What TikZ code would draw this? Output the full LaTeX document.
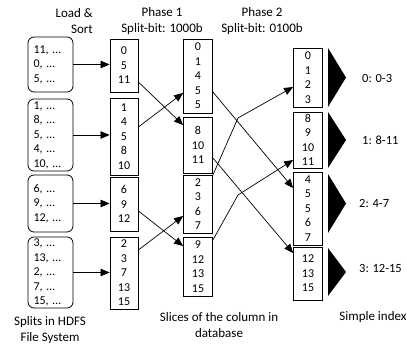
\documentclass[tikz,border=0pt]{standalone}
\usepackage{fontspec}
\setmainfont{Carlito}
\usetikzlibrary{arrows.meta}
\begin{document}
\begin{tikzpicture}[x=1pt,y=-1pt,
  font=\fontsize{12}{14.5}\selectfont,
  split/.style={draw,rounded corners=6pt,line width=0.8pt,minimum width=45pt,inner sep=0pt,align=left,text width=34pt},
  slice/.style={draw,line width=0.8pt,inner sep=0pt,align=center,minimum width=29pt},
  conn/.style={line width=0.7pt,-{Triangle[length=9pt,width=7.5pt]}},
  lbl/.style={inner sep=0pt,align=center,font=\fontsize{13}{16}\selectfont},
  idx/.style={inner sep=0pt,anchor=west,font=\fontsize{12.5}{15}\selectfont},
  tri/.style={fill=black}]
\useasboundingbox (0,0) rectangle (407,345);

% headers
\node[lbl,align=right,anchor=east] (hload) at (93,21) {Load \&\\Sort};
\node[lbl] (hp1) at (162,21) {Phase 1\\Split-bit: 1000b};
\node[lbl] (hp2) at (262,21) {Phase 2\\Split-bit: 0100b};

% splits
\node[split,minimum height=55pt] (s1) at (50.5,64.5) {11, …\\0, …\\5, …};
\node[split,minimum height=72pt] (s2) at (50.5,135) {1, …\\8, …\\5, …\\4, …\\10, …};
\node[split,minimum height=57pt] (s3) at (50.5,203.5) {6, …\\9, …\\12, …};
\node[split,minimum height=71pt] (s4) at (50.5,272.5) {3, …\\13, …\\2, …\\7, …\\15, …};

% phase 1 slices
\node[slice,minimum width=28pt,minimum height=53pt] (p1a) at (124,65.5) {0\\5\\11};
\node[slice,minimum width=28pt,minimum height=77pt] (p1b) at (124,136.5) {1\\4\\5\\8\\10};
\node[slice,minimum width=28pt,minimum height=54pt] (p1c) at (124,204) {6\\9\\12};
\node[slice,minimum width=28pt,minimum height=72pt] (p1d) at (124,273) {2\\3\\7\\13\\15};

% middle slices
\node[slice,minimum height=74pt] (m1) at (198,76) {0\\1\\4\\5\\5};
\node[slice,minimum height=56pt] (m2) at (198,145) {8\\10\\11};
\node[slice,minimum height=58pt] (m3) at (198,204) {2\\3\\6\\7};
\node[slice,minimum height=59pt] (m4) at (198,266.5) {9\\12\\13\\15};

% right slices
\node[slice,minimum height=59pt] (r1) at (308,77.5) {0\\1\\2\\3};
\node[slice,minimum height=56pt] (r2) at (308,140) {8\\9\\10\\11};
\node[slice,minimum height=73pt] (r3) at (308,208.5) {4\\5\\5\\6\\7};
\node[slice,minimum height=53pt] (r4) at (308,273.5) {12\\13\\15};

% triangles
\fill[tri] (328,48) -- (328,107) -- (346,77.5) -- cycle;
\fill[tri] (328,112) -- (328,168) -- (346,140) -- cycle;
\fill[tri] (328,174) -- (328,233) -- (346,203.5) -- cycle;
\fill[tri] (328,248) -- (328,296) -- (346,272) -- cycle;

% index labels
\node[idx] (i0) at (362,78) {0: 0-3};
\node[idx] (i1) at (362,140) {1: 8-11};
\node[idx] (i2) at (359,203) {2: 4-7};
\node[idx] (i3) at (359,268) {3: 12-15};

% bottom labels
\node[lbl] (bsplit) at (50,330) {Splits in HDFS\\File System};
\node[lbl] (bslice) at (219,325) {Slices of the column in\\database};
\node[lbl] (bindex) at (373,317) {Simple index};

% load & sort arrows
\draw[conn] (s1.east) -- (s1.east -| p1a.west);
\draw[conn] (s2.east) -- (s2.east -| p1b.west);
\draw[conn] (s3.east) -- (s3.east -| p1c.west);
\draw[conn] (s4.east) -- (s4.east -| p1d.west);

% phase 1
\draw[conn] ([yshift=-16.5pt]p1a.east) -- ([yshift=20pt]m2.west);
\draw[conn] ([yshift=9.5pt]p1b.east) -- ([yshift=-17pt]m1.west);
\draw[conn] ([yshift=-7pt]p1c.east) -- ([yshift=20.5pt]m4.west);
\draw[conn] ([yshift=23pt]p1d.east) -- ([yshift=-12pt]m3.west);

% phase 2
\coordinate (v1) at (238,118);
\coordinate (v2) at (238,195);
\draw[conn] ([yshift=-16pt]m1.east) -- ([yshift=20.5pt]r3.west);
\draw[conn] ([yshift=-13pt]m2.east) -- ([yshift=20.5pt]r4.west);
\draw[conn] ([yshift=29pt]m3.east) -- (v1) -- ([yshift=-9.5pt]r1.west);
\draw[conn] ([yshift=26.5pt]m4.east) -- (v2) -- ([yshift=-20pt]r2.west);
\end{tikzpicture}
\end{document}
